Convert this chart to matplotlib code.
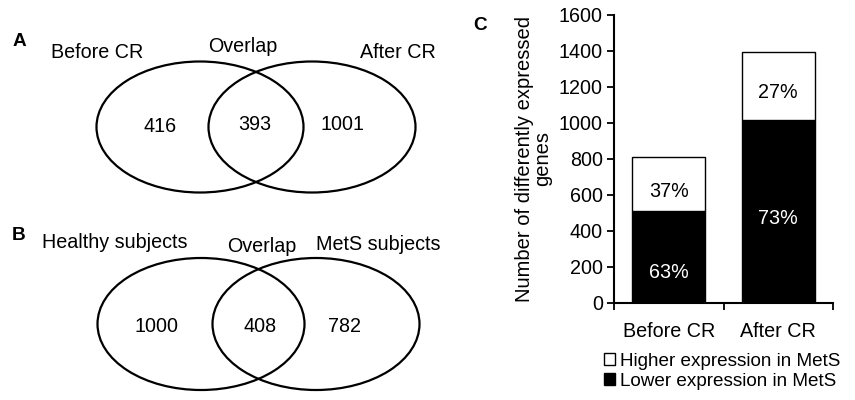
import matplotlib
matplotlib.use("Agg")
import matplotlib.pyplot as plt
from matplotlib.patches import Ellipse, Patch

plt.rcParams['font.family'] = ['Liberation Sans', 'DejaVu Sans']

# ---- data ----
venn_a_labels = ["Before CR", "Overlap", "After CR"]
venn_a_counts = [416, 393, 1001]
venn_b_labels = ["Healthy subjects", "Overlap", "MetS subjects"]
venn_b_counts = [1000, 408, 782]

bar_categories = ["Before CR", "After CR"]
lower_expr = [510, 1018]
higher_expr = [299, 376]
lower_pct = ["63%", "73%"]
higher_pct = ["37%", "27%"]
y_ticks = [0, 200, 400, 600, 800, 1000, 1200, 1400, 1600]
legend_labels = ["Higher expression in MetS", "Lower expression in MetS"]

FS = 14.2

fig = plt.figure(figsize=(8.55, 4.0), dpi=100)

# ---- Venn diagrams (pixel coordinate canvas) ----
vax = fig.add_axes([0, 0, 1, 1])
vax.set_xlim(0, 855)
vax.set_ylim(400, 0)
vax.axis('off')

def draw_venn(panel, labels, counts, cy, lcx, rcx, w, h, label_pos, count_pos, panel_pos):
    for cx in (lcx, rcx):
        vax.add_patch(Ellipse((cx, cy), w, h, fill=False, edgecolor='black', lw=1.6))
    vax.text(panel_pos[0], panel_pos[1], panel, fontsize=FS - 0.5, fontweight='bold',
             ha='left', va='center')
    for lab, (x, y) in zip(labels, label_pos):
        vax.text(x, y, lab, fontsize=FS, ha='center', va='center')
    for c, (x, y) in zip(counts, count_pos):
        vax.text(x, y, str(c), fontsize=FS, ha='center', va='center')

draw_venn("A", venn_a_labels, venn_a_counts, 127, 200, 312, 207, 131,
          [(97, 52), (243, 46), (398, 52)],
          [(160, 126), (255, 124), (342, 125)],
          (13, 41))
draw_venn("B", venn_b_labels, venn_b_counts, 324, 201, 316, 207, 132,
          [(115, 243), (262, 247), (378, 244)],
          [(156, 326), (260, 326), (344, 327)],
          (12, 236))

# ---- Stacked bar chart ----
ax = fig.add_axes([614/855, 1 - 303/400, (833-614)/855, 288/400])
x = list(range(len(bar_categories)))
ax.bar(x, lower_expr, width=0.67, color='black', edgecolor='black', lw=1)
ax.bar(x, higher_expr, bottom=lower_expr, width=0.67, color='white',
       edgecolor='black', lw=1)

label_y_low = [172, 472]
label_y_high = [617, 1172]
for i in x:
    ax.text(i, label_y_low[i], lower_pct[i], color='white', fontsize=FS,
            ha='center', va='center')
    ax.text(i, label_y_high[i], higher_pct[i], color='black', fontsize=FS,
            ha='center', va='center')

ax.set_xlim(-0.5, 1.5)
ax.set_ylim(0, 1600)
ax.set_yticks(y_ticks)
ax.tick_params(axis='y', labelsize=FS, direction='out', length=5, width=1.3, pad=3)
ax.set_xticks(x)
ax.set_xticklabels(bar_categories, fontsize=FS)
ax.tick_params(axis='x', length=0, pad=14)
ax.set_xticks([-0.5, 0.5, 1.5], minor=True)
ax.tick_params(axis='x', which='minor', direction='out', length=5, width=1.3)
for s in ['top', 'right']:
    ax.spines[s].set_visible(False)
for s in ['left', 'bottom']:
    ax.spines[s].set_linewidth(1.5)

ax.set_ylabel("Number of differently expressed\ngenes", fontsize=FS + 0.3,
              linespacing=0.9, labelpad=5)

fig.text(480/855, 1 - 25/400, "C", fontsize=FS - 0.5, fontweight='bold',
         ha='center', va='center')

handles = [Patch(facecolor='white', edgecolor='black', lw=1),
           Patch(facecolor='black', edgecolor='black', lw=1)]
fig.legend(handles, legend_labels, loc='upper left',
           bbox_to_anchor=(604/855, 1 - 353/400), frameon=False, fontsize=FS - 0.6,
           handlelength=0.6, handleheight=0.6, handletextpad=0.25,
           labelspacing=0.15, borderaxespad=0, borderpad=0)

fig.savefig("out.png", dpi=100)
